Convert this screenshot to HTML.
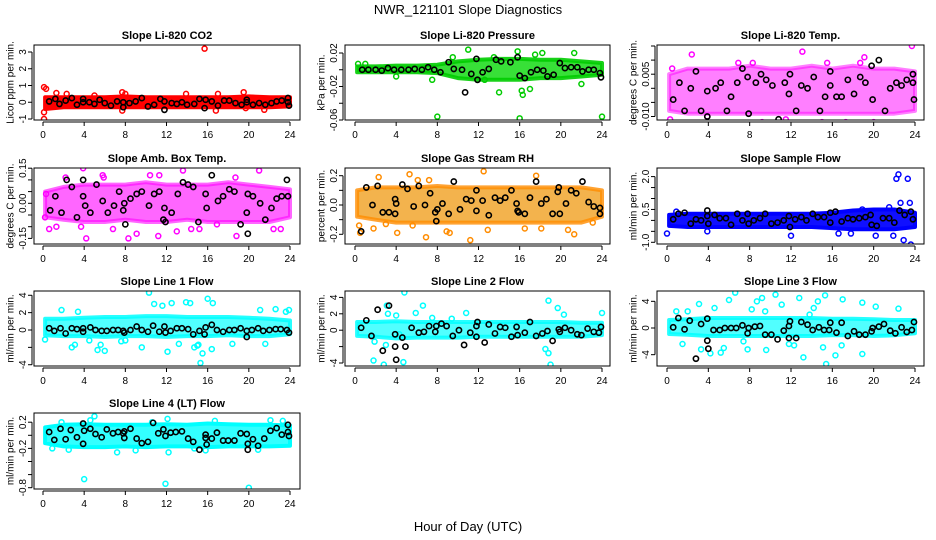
<!DOCTYPE html>
<html><head><meta charset="utf-8">
<style>
html,body{margin:0;padding:0;background:#fff;}
svg{display:block;font-family:"Liberation Sans",Arial,sans-serif;}
</style></head>
<body>
<svg id="chart" width="936" height="540" viewBox="0 0 936 540" xmlns="http://www.w3.org/2000/svg">
<rect width="936" height="540" fill="#fff"/>
<text x="468" y="14" text-anchor="middle" font-size="13">NWR_121101  Slope Diagnostics</text>
<text x="468" y="531" text-anchor="middle" font-size="13">Hour of Day (UTC)</text>
</svg>
<script>
// ---------- data ----------
const xTicks=[0,4,8,12,16,20,24];
const bandHours=[0,2,4,6,8,10,12,14,16,18,20,22,24];

// CO2
const co2Ticks=[-1,0,1,2,3];
const co2Labels=["-1","0","1","2","3"];
const co2BandLo=[-0.4,-0.3,-0.3,-0.3,-0.3,-0.3,-0.3,-0.3,-0.3,-0.3,-0.3,-0.3,-0.25];
const co2BandHi=[0.3,0.3,0.3,0.3,0.35,0.3,0.3,0.3,0.3,0.3,0.35,0.3,0.3];
const co2OutX=[0.1,0.3,0.1,0.1,15.7,1.3,2.3,5,7.7,7.7,8,13.9,16.8,17,19.5,19.7,21.5];
const co2OutY=[0.9,0.8,-0.6,-1.0,3.2,0.55,0.5,0.4,0.6,-0.5,0.5,0.5,-0.5,0.5,0.6,-0.35,-0.45];
const co2BlkX=[0.6,1.2,1.6,2.2,2.8,3.3,3.9,3.9,4.5,5,5.5,6,6.6,7.2,7.8,7.8,8.4,9,9.6,10.2,10.8,11.4,11.8,11.8,12.5,13,13.5,14,14.7,15.2,15.7,15.8,16.4,17,17.6,18.1,18.7,19.3,19.8,19.8,20.4,21,21.6,22.2,22.7,23.2,23.8,23.8,23.9];
const co2BlkY=[0.05,0.2,-0.1,0.1,0.25,-0.15,0.2,0,0,-0.1,0.15,-0.05,-0.2,0.05,-0.3,0,-0.05,0.05,0.25,-0.25,-0.15,0.2,-0.45,0.05,-0.05,-0.1,0,-0.15,-0.1,0.2,-0.35,0.15,0.05,-0.2,0.1,0.1,-0.05,-0.15,0.15,0,-0.15,-0.05,-0.15,-0.05,0.05,0.1,0.25,0,-0.2];

// Pressure
const prTicks=[-0.06,-0.04,-0.02,0,0.02];
const prLabels=["-0.06","","-0.02","","0.02"];
const prBandLo=[-0.003,-0.003,-0.003,-0.003,-0.004,-0.01,-0.012,-0.012,-0.012,-0.01,-0.01,-0.008,-0.006];
const prBandHi=[0.004,0.004,0.005,0.005,0.006,0.01,0.012,0.013,0.013,0.012,0.012,0.01,0.008];
const prOutX=[8,16,24,14,16.3,16.2,17,11,15.8,18.2,21.3,7.5,4,22,1,0.3,13.5,17.5,9.5,12.6];
const prOutY=[-0.056,-0.058,-0.056,-0.027,-0.03,-0.025,-0.023,0.024,0.022,0.02,0.02,-0.012,-0.008,-0.017,0.007,0.007,0.015,0.018,0.015,-0.012];
const prBlkX=[0.7,1.3,2,2.6,3.2,3.8,4.5,5.2,5.8,6.5,7.1,7.7,8.3,9.1,9.6,10.4,10.7,11.3,11.8,11.9,12.4,13,13.7,14.2,15.1,15.8,16,16.5,17.1,17.7,18.3,18.7,19.3,19.9,20.4,21,21.6,22.1,22.7,23.2,23.8,23.9];
const prBlkY=[0,0,0,-0.001,0.002,0,0,0,0.001,0,0.003,0,-0.003,0.009,0.001,0,-0.027,-0.005,0.013,-0.012,-0.003,0.001,0.012,0.01,0.009,0.015,-0.007,-0.01,-0.003,0,-0.001,-0.008,-0.006,0.008,0.002,0.003,0.003,-0.002,0,0,-0.004,-0.009];

// Li-820 Temp
const ltTicks=[-0.010,-0.005,0,0.005,0.010,0.015];
const ltLabels=["-0.010","","","0.005","",""];
const ltBandLo=[-0.008,-0.009,-0.009,-0.009,-0.009,-0.009,-0.009,-0.009,-0.009,-0.009,-0.009,-0.009,-0.008];
const ltBandHi=[0.005,0.007,0.007,0.007,0.008,0.007,0.007,0.008,0.007,0.008,0.007,0.007,0.006];
const ltOutX=[0.3,2.4,1.5,3.9,4.8,8.3,9.2,10.3,13.1,15,17.3,19.1,20,20.5,22.5,23.7,0.5,6.9,11.5,15.5,18.7];
const ltOutY=[-0.011,0.012,-0.013,-0.010,-0.013,0.009,-0.012,-0.014,0.013,-0.012,-0.012,0.011,-0.012,-0.013,-0.014,0.015,0.007,0.009,-0.011,0.009,0.009];
const ltBlkX=[0.6,1.2,1.7,2.3,2.8,3.3,3.9,3.9,4.7,5.2,5.8,6.2,6.8,7.3,7.8,7.9,8.6,9.1,9.6,10.2,10.8,11.4,11.8,11.9,12.5,13,13.6,14.2,14.8,15.3,15.8,15.8,16.4,16.9,17.5,18.1,18.7,19.2,19.8,19.9,20.5,21.1,21.6,22.2,22.7,23.2,23.8,23.8,23.9];
const ltBlkY=[-0.004,0.002,-0.008,0,0.006,-0.008,-0.001,-0.010,0,0.002,-0.008,-0.003,0.002,0.007,0.004,-0.009,0.002,0.005,0.003,0.001,-0.011,0.002,-0.002,0.005,-0.008,0.001,0,0.004,-0.008,-0.003,0.006,0.001,-0.003,-0.003,0.003,-0.002,0.004,0.002,0.008,-0.004,0.01,-0.008,0,0.002,0.001,0.003,0.005,0.002,-0.004];

// Amb box temp
const abTicks=[-0.15,-0.10,-0.05,0,0.05,0.10,0.15];
const abLabels=["-0.15","","","0.00","","","0.15"];
const abBandLo=[-0.06,-0.07,-0.08,-0.08,-0.07,-0.08,-0.08,-0.07,-0.08,-0.08,-0.08,-0.08,-0.06];
const abBandHi=[0.05,0.07,0.08,0.08,0.08,0.09,0.08,0.08,0.08,0.09,0.08,0.07,0.06];
const abOutX=[0.2,0.6,1.3,2.2,3.9,4.2,3.7,5.8,6.8,8.3,9.1,10.4,11.2,11.3,13,13.6,14.4,15.2,16.1,16.9,18.8,18.7,21,22.4,23.1,0.3,5.9];
const abOutY=[-0.06,-0.11,-0.1,0.11,0.15,-0.15,-0.1,0.12,-0.11,-0.15,-0.13,0.12,-0.14,0.12,-0.12,0.14,-0.11,-0.11,-0.2,-0.09,-0.14,0.11,0.14,-0.11,-0.11,0.04,0.11];
const abBlkX=[0.7,1.2,1.8,2.3,2.8,3.3,3.9,3.9,4.1,4.6,5.2,5.8,6.3,6.9,7.4,7.8,7.9,8,8.5,9.1,9.6,10.3,10.8,11.3,11.7,11.8,11.9,12.5,13.1,13.6,14.1,14.6,15.1,15.8,15.9,16.4,17,17.5,18.1,18.6,19.2,19.8,19.9,19.9,20.4,21.1,21.6,22.2,22.7,23.2,23.7,23.8];
const abBlkY=[-0.03,0.03,-0.04,0.1,0.07,-0.06,0.1,0.03,-0.01,-0.04,0.08,0.01,-0.04,-0.01,0.05,-0.03,0,-0.09,0.02,0.04,0.05,-0.01,0.04,0.05,-0.07,-0.02,-0.08,-0.04,0.04,0.09,0.08,0.07,-0.08,0.04,-0.02,0.12,0.01,0.03,0.06,0.05,-0.09,-0.04,0.04,-0.13,0.03,0,-0.07,-0.02,0.02,0.03,0.1,0.03];

// Gas RH
const ghTicks=[-0.2,-0.1,0,0.1,0.2];
const ghLabels=["-0.2","","0.0","","0.2"];
const ghBandLo=[-0.08,-0.1,-0.12,-0.12,-0.12,-0.12,-0.12,-0.12,-0.12,-0.12,-0.12,-0.12,-0.08];
const ghBandHi=[0.1,0.12,0.12,0.12,0.13,0.12,0.12,0.12,0.12,0.12,0.12,0.12,0.1];
const ghOutX=[0.4,0.5,2.3,5.3,6.1,6.9,7.2,4.1,3,9.2,8.9,11.2,12.5,12.9,17.6,20.7,21.3,1.8,5.6,18.1,23.1,16.5];
const ghOutY=[-0.14,-0.19,0.19,0.21,0.17,-0.22,0.17,-0.19,-0.13,-0.19,-0.18,-0.24,0.23,-0.17,0.2,-0.17,-0.2,-0.16,-0.14,-0.16,-0.12,-0.16];
const ghBlkX=[0.6,1.1,1.7,2.2,2.7,3.3,3.9,3.9,4,4.6,5.1,5.7,6.2,6.8,7.3,7.8,7.9,8,8.5,9.1,9.6,10.2,10.8,11.3,11.8,11.8,12.4,13,13.6,14.1,14.6,15.2,15.7,15.8,15.9,16.5,17,17.6,18.1,18.6,19.2,19.7,19.8,19.9,20.5,21,21.5,22.1,22.7,23.2,23.8,23.8];
const ghBlkY=[-0.18,0.12,0,0.13,-0.05,-0.05,0.04,-0.06,0.01,0.14,0.11,-0.01,0.13,0,0.08,-0.05,-0.11,-0.03,0.01,-0.06,0.16,-0.03,0.04,0.03,0.1,-0.04,0.03,-0.07,0.05,0.03,0.05,0.1,0.01,-0.04,-0.05,-0.06,0.05,0.16,0.01,0.04,-0.06,0.09,0.12,-0.06,0.01,0.1,0.08,0.16,0.02,-0.01,-0.06,-0.02];

// Sample flow
const sfTicks=[-1.0,-0.5,0,0.5,1.0,1.5,2.0];
const sfLabels=["-1.0","","","0.5","","","2.0"];
const sfBandLo=[-0.25,-0.3,-0.3,-0.3,-0.3,-0.3,-0.3,-0.3,-0.35,-0.4,-0.4,-0.4,-0.3];
const sfBandHi=[0.25,0.3,0.3,0.3,0.3,0.3,0.3,0.3,0.35,0.45,0.5,0.5,0.35];
const sfOutX=[0,22.4,22.2,23.3,22.6,22.9,23.6,23.5,21.9,22.1,3.9,12,16.6,17.8,20.2,21.5,18.9,0.9];
const sfOutY=[-0.6,2.1,1.9,1.9,0.8,-0.9,-1.1,0.8,-0.7,-1.5,-0.5,-0.7,-0.6,-0.6,-0.7,0.6,0.5,0.4];
const sfBlkX=[0.6,1.1,1.7,2.3,2.8,3.3,3.9,3.9,4,4.6,5.1,5.7,6.2,6.8,7.3,7.8,7.9,8.4,9,9.5,10.1,10.7,11.3,11.8,11.9,12.4,13,13.5,14.1,14.6,15.2,15.8,15.8,16.3,16.9,17.5,18,18.6,19.2,19.7,19.8,20.3,20.9,21.5,22,22.5,23,23.6,23.8];
const sfBlkY=[0.05,0.3,0.35,-0.15,0.05,0,0.45,0.2,-0.15,0.25,0.1,0.1,-0.2,0.3,0,0.3,-0.15,0,0.1,0.3,-0.15,-0.1,0,0.2,-0.3,0.05,0.15,0,0.3,0.15,0.15,-0.1,0.35,0.4,-0.05,0.1,0.05,0.1,0.15,0.25,-0.2,-0.25,0.1,0.1,-0.1,0.45,0.25,0.4,0.05];

// Line 1
const l1Ticks=[-4,-2,0,2,4];
const l1Labels=["-4","","0","2","4"];
const l1BandLo=[-0.6,-0.7,-0.7,-0.8,-0.7,-0.7,-0.8,-0.7,-0.7,-0.6,-0.7,-0.7,-0.5];
const l1BandHi=[1.3,1.3,1.4,1.5,1.5,1.6,1.6,1.5,1.5,1.5,1.4,1.3,1.1];
const l1OutX=[0.2,2.8,3.1,5.3,5.6,6,7.6,8,9.6,10.3,10.8,11.6,12.1,12.5,13.2,13.9,14.3,14.7,15,15.1,15.3,15.5,16,16.4,16.5,18.4,21.1,21.6,22.6,23.6,23.9,1.8,3.4,4.5];
const l1OutY=[-1.1,-2,-1.7,-2.3,-1.7,-2.4,-1.3,-1.2,-2,4.3,3,2.8,-2.5,3.1,-1.6,3.2,3.1,-2,-1.8,-1.7,-3.8,-2.7,3.6,-2.2,3.1,-1.6,2.3,-1.6,2.4,2.1,2.3,2.3,2.1,-1.2];
const l1BlkX=[0.6,1.1,1.7,2.2,2.8,3.3,3.9,3.9,4.6,5.1,5.7,6.2,6.8,7.3,7.8,7.9,8.5,9.1,9.6,10.2,10.7,11.3,11.8,11.9,12.4,13,13.5,14.1,14.6,15.2,15.7,15.8,16.4,16.9,17.5,18.1,18.6,19.2,19.8,19.8,20.3,20.9,21.4,22,22.6,23.1,23.7,23.9];
const l1BlkY=[0.2,-0.1,0.2,-0.4,0.2,0.1,0.2,-0.2,0.3,0,-0.1,-0.1,0,0,-0.1,-0.3,0,0.4,0,-0.2,0.5,-0.2,0.4,-0.3,-0.1,0.2,0.2,0.1,-0.5,-0.1,-0.5,0.3,0.6,0,-0.2,0,0,0.2,-0.8,-0.1,0,0.2,-0.1,0,0.1,0.1,0,-0.3];

// Line 2
const l2Ticks=[-4,-2,0,2,4];
const l2Labels=["-4","","0","2","4"];
const l2BandLo=[-0.7,-0.8,-1.0,-0.9,-0.9,-0.9,-0.8,-0.8,-0.8,-0.8,-0.8,-0.8,-0.6];
const l2BandHi=[1.0,1.0,1.1,1.0,1.0,1.0,1.0,1.0,1.0,1.0,1.0,0.9,0.9];
const l2OutX=[1.8,2.8,3.1,4,4.3,4.7,4.8,6.6,5.9,7.5,9.4,10.8,18.5,18.8,19,18.8,19.7,20.3,24,3,3.2,1.9];
const l2OutY=[-3.7,-4.2,3,1.8,-0.5,-3.9,4.6,3,2.1,1.5,1.4,2.1,-2.3,3.6,-4.2,-2.8,2.7,1.9,2.1,-1.8,2,-1.4];
const l2BlkX=[0.6,1.1,1.6,2.2,2.7,3.3,3.9,3.9,4,4.6,4.9,5.5,6.2,6.7,7.2,7.8,7.9,8.4,8.9,9.5,10.1,10.6,11.2,11.8,11.8,11.9,12.6,13,13.6,14.1,14.6,15.2,15.7,15.8,16.5,17,17.6,18.2,18.7,19.2,19.8,19.9,20.4,21,21.6,22,22.6,23.2,23.7,23.9];
const l2BlkY=[0.3,1.2,-0.7,2.5,-2.5,3,-0.5,-2,-3.6,-0.9,-2,0.3,-0.3,-0.2,0.5,-0.2,0.5,0.8,0.5,-0.7,0,-1.8,-0.3,-0.8,0.5,1,-1.5,0.7,-0.4,0.4,0.3,-0.8,0.4,-0.6,-0.3,1,-0.7,-0.4,-0.1,-1.3,0.1,-0.2,0.3,0,-0.5,-0.6,0.2,-0.2,-0.3,0.4];

// Line 3
const l3Ticks=[-4,0,4];
const l3Labels=["-4","0","4"];
const l3BandLo=[-0.9,-1.0,-1.2,-1.2,-1.2,-1.2,-1.2,-1.2,-1.1,-1.1,-1.2,-1.1,-0.8];
const l3BandHi=[1.2,1.3,1.5,1.5,1.5,1.5,1.5,1.5,1.4,1.4,1.3,1.2,1.2];
const l3OutX=[0.9,1.5,2,3.1,3.3,4.2,4.6,5.2,6.6,7.8,8.2,8.7,9.2,9.6,10.5,11.1,12.3,12.8,13.2,13.8,14.6,15.1,15.3,15.4,16.3,17,18.9,18.9,20.2,22.4,5.5,6,7.4,9.5,11.8,14.2,16.9];
const l3OutY=[2.5,-2.4,2.5,3.6,-3.2,-3.8,3,-3.7,5.3,-3.2,2.8,4,4.5,-3.3,5,3.5,-2.6,4.5,-4.4,2,4,-2.9,4.9,-5.4,-4.1,4.3,3.8,-3.9,3.2,2.9,-3,4.2,-2,2.5,-2.4,3,-2.6];
const l3BlkX=[0.6,1.1,1.7,2.2,2.8,3.3,3.9,3.9,4,4.5,5.1,5.6,6.2,6.7,7.3,7.8,7.9,8.5,9,9.5,10.1,10.7,11.3,11.8,11.8,11.9,12.5,13,13.6,14.1,14.7,15.2,15.7,15.8,16.4,16.9,17.5,18.1,18.6,19.2,19.8,19.9,20.5,21,21.6,22.1,22.7,23.2,23.7,23.9];
const l3BlkY=[0.1,1.5,-0.2,1.1,-4.6,0.6,1.4,-1.9,-3.1,-0.3,-0.3,0,0,0,0.4,-0.8,0,0.2,0.3,-1,-1,-1.7,-0.4,-1.5,0.3,1,-1.5,0.9,0.5,-0.3,0.1,-0.3,-0.3,0.8,-0.7,0.8,-1.2,-0.5,-1,-1,-0.5,0,0.2,0.6,-0.4,-0.8,0.1,-0.6,-0.3,0.9];

// Line 4
const l4Ticks=[-0.8,-0.6,-0.4,-0.2,0,0.2];
const l4Labels=["-0.8","","","-0.2","","0.2"];
const l4BandLo=[-0.12,-0.17,-0.18,-0.18,-0.17,-0.18,-0.17,-0.17,-0.18,-0.17,-0.17,-0.17,-0.16];
const l4BandHi=[0.12,0.16,0.17,0.16,0.16,0.16,0.17,0.16,0.18,0.17,0.16,0.16,0.15];
const l4OutX=[0.9,1.8,2.5,4,4.6,5,7.2,9,10.6,12.1,12.2,14.7,15.8,16.7,20,20.9,22.1,23.3,11.9,3.9];
const l4OutY=[-0.2,0.2,-0.22,-0.67,0.23,0.29,-0.26,-0.23,0.2,0.25,-0.26,-0.2,-0.23,0.22,-0.8,-0.22,0.23,0.22,-0.74,0.15];
const l4BlkX=[0.6,1.1,1.7,2.2,2.7,3.3,3.9,3.9,4,4.6,5.1,5.7,6.2,6.8,7.3,7.8,7.9,7.9,8.5,9.1,9.6,10.2,10.7,11.2,11.7,11.9,12.4,12.9,13.5,14.1,14.6,15.2,15.8,15.8,15.9,16.4,16.9,17.5,18,18.6,19.2,19.8,19.9,19.9,20.4,20.9,21.5,22.1,22.7,23.2,23.8,23.8,23.9];
const l4BlkY=[0.05,-0.07,0.1,-0.06,0.08,-0.03,0.18,-0.13,0.07,0.1,0.02,-0.03,0.09,0.03,0.05,0.03,0.06,-0.04,0.1,-0.05,-0.12,-0.1,0.19,0.03,0.09,-0.01,0.04,0.05,0.06,-0.05,-0.1,-0.22,0.01,-0.04,-0.14,-0.05,0.04,-0.08,-0.08,-0.08,0.03,0.02,-0.13,-0.22,-0.06,-0.16,-0.05,0.07,0.11,0.01,0.16,0.05,-0.01];

// ---------- layout (not data) ----------
const NS="http://www.w3.org/2000/svg";
const svg=document.getElementById('chart');
const COLS=[{bx1:34,bx2:300,x0:43,x24:290,lblX:10},{bx1:345,bx2:610,x0:355,x24:602,lblX:321},{bx1:657,bx2:924,x0:667,x24:915,lblX:633}];
const ROWS=[{by1:45,by2:120},{by1:168,by2:244},{by1:291,by2:366},{by1:413,by2:489}];

const panels=[
 {key:'co2',title:'Slope Li-820 CO2',ylab:'Licor ppm per min.',col:0,row:0,zero:102.25,ppu:16.75,ticks:co2Ticks,labels:co2Labels,lo:co2BandLo,hi:co2BandHi,ox:co2OutX,oy:co2OutY,bx:co2BlkX,by:co2BlkY,color:'#ff0000',fill:'#ff0000',op:1},
 {key:'pressure',title:'Slope Li-820 Pressure',ylab:'kPa per min.',col:1,row:0,zero:69.75,ppu:837.5,ticks:prTicks,labels:prLabels,lo:prBandLo,hi:prBandHi,ox:prOutX,oy:prOutY,bx:prBlkX,by:prBlkY,color:'#00cc00',fill:'#22dd22',op:0.9},
 {key:'li820-temp',title:'Slope Li-820 Temp.',ylab:'degrees C per min.',col:2,row:0,zero:88.3,ppu:2820,ticks:ltTicks,labels:ltLabels,lo:ltBandLo,hi:ltBandHi,ox:ltOutX,oy:ltOutY,bx:ltBlkX,by:ltBlkY,color:'#ff00ff',fill:'#ff00ff',op:0.5},
 {key:'amb-box-temp',title:'Slope Amb. Box Temp.',ylab:'degrees C per min.',col:0,row:1,zero:203.3,ppu:234,ticks:abTicks,labels:abLabels,lo:abBandLo,hi:abBandHi,ox:abOutX,oy:abOutY,bx:abBlkX,by:abBlkY,color:'#ff00ff',fill:'#ff00ff',op:0.6},
 {key:'gas-rh',title:'Slope Gas Stream RH',ylab:'percent per min.',col:1,row:1,zero:205,ppu:146.5,ticks:ghTicks,labels:ghLabels,lo:ghBandLo,hi:ghBandHi,ox:ghOutX,oy:ghOutY,bx:ghBlkX,by:ghBlkY,color:'#ff8c00',fill:'#f0a020',op:0.8},
 {key:'sample-flow',title:'Slope Sample Flow',ylab:'ml/min per min.',col:2,row:1,zero:220.4,ppu:21.9,ticks:sfTicks,labels:sfLabels,lo:sfBandLo,hi:sfBandHi,ox:sfOutX,oy:sfOutY,bx:sfBlkX,by:sfBlkY,color:'#0000ff',fill:'#1010ff',op:1},
 {key:'line1',title:'Slope Line 1 Flow',ylab:'ml/min per min.',col:0,row:2,zero:330,ppu:8.68,ticks:l1Ticks,labels:l1Labels,lo:l1BandLo,hi:l1BandHi,ox:l1OutX,oy:l1OutY,bx:l1BlkX,by:l1BlkY,color:'#00ffff',fill:'#33ffff',op:0.85},
 {key:'line2',title:'Slope Line 2 Flow',ylab:'ml/min per min.',col:1,row:2,zero:330.2,ppu:8.2,ticks:l2Ticks,labels:l2Labels,lo:l2BandLo,hi:l2BandHi,ox:l2OutX,oy:l2OutY,bx:l2BlkX,by:l2BlkY,color:'#00ffff',fill:'#33ffff',op:0.85},
 {key:'line3',title:'Slope Line 3 Flow',ylab:'ml/min per min.',col:2,row:2,zero:328,ppu:6.67,ticks:l3Ticks,labels:l3Labels,lo:l3BandLo,hi:l3BandHi,ox:l3OutX,oy:l3OutY,bx:l3BlkX,by:l3BlkY,color:'#00ffff',fill:'#33ffff',op:0.85},
 {key:'line4',title:'Slope Line 4 (LT) Flow',ylab:'ml/min per min.',col:0,row:3,zero:435.3,ppu:65.5,ticks:l4Ticks,labels:l4Labels,lo:l4BandLo,hi:l4BandHi,ox:l4OutX,oy:l4OutY,bx:l4BlkX,by:l4BlkY,color:'#00ffff',fill:'#33ffff',op:1}
];

function mk(tag,attrs,parent){const e=document.createElementNS(NS,tag);for(const k in attrs)e.setAttribute(k,attrs[k]);parent.appendChild(e);return e;}

panels.forEach(p=>{
  const C=COLS[p.col],R=ROWS[p.row];
  const xs=t=>C.x0+t*(C.x24-C.x0)/24;
  const ys=v=>p.zero-v*p.ppu;
  const g=mk('g',{},svg);
  
  
  const t=mk('text',{x:(C.bx1+C.bx2)/2,y:R.by1-6,'text-anchor':'middle','font-size':'11','font-weight':'bold'},g);
  t.textContent=p.title;
  
  
  const cy=(R.by1+R.by2)/2;
  const yl=mk('text',{x:C.lblX,y:cy,'text-anchor':'middle','font-size':'10',transform:`rotate(-90 ${C.lblX} ${cy})`,dy:'0.35em'},g);
  yl.textContent=p.ylab;
  
  
  const clipId='clip-'+p.key;
  const cp=mk('clipPath',{id:clipId},g);
  mk('rect',{x:C.bx1,y:R.by1,width:C.bx2-C.bx1,height:R.by2-R.by1},cp);
  const pg=mk('g',{'clip-path':`url(#${clipId})`},g);
  let pts=bandHours.map((h,i)=>`${xs(Math.max(h,0.2)).toFixed(1)},${ys(p.hi[i]).toFixed(1)}`);
  for(let i=bandHours.length-1;i>=0;i--)pts.push(`${xs(Math.max(bandHours[i],0.2)).toFixed(1)},${ys(p.lo[i]).toFixed(1)}`);
  const band=mk('polygon',{points:pts.join(' '),fill:p.fill,'fill-opacity':p.op,stroke:p.color,'stroke-opacity':p.op,'stroke-width':'4','stroke-linejoin':'round'},pg);
  
  
  p.ox.forEach((x,i)=>{
    const c=mk('circle',{cx:xs(x),cy:ys(p.oy[i]),r:2.5,fill:'none',stroke:p.color,'stroke-width':'1.5'},pg);
    
    
  });
  p.bx.forEach((x,i)=>{
    const c=mk('circle',{cx:xs(x),cy:ys(p.by[i]),r:2.6,fill:'none',stroke:'#000','stroke-width':'1.6'},pg);
    
    
  });
  const box=mk('rect',{x:C.bx1,y:R.by1,width:C.bx2-C.bx1,height:R.by2-R.by1,fill:'none',stroke:'#000','stroke-width':'1'},g);
  
  
  const xa=mk('g',{},g);
  
  
  const xb=R.by2+2;
  mk('line',{x1:xs(xTicks[0]),x2:xs(xTicks[xTicks.length-1]),y1:xb,y2:xb,stroke:'#000'},xa);
  xTicks.forEach(v=>{
    mk('line',{x1:xs(v),x2:xs(v),y1:xb,y2:xb+4,stroke:'#000'},xa);
    const tl=mk('text',{x:xs(v),y:xb+16,'text-anchor':'middle','font-size':'10'},xa);
    tl.textContent=String(v);
  });
  const ya=mk('g',{},g);
  
  
  const yb=C.bx1-2;
  mk('line',{x1:yb,x2:yb,y1:ys(p.ticks[0]),y2:ys(p.ticks[p.ticks.length-1]),stroke:'#000'},ya);
  p.ticks.forEach((v,i)=>{
    mk('line',{x1:yb-4,x2:yb,y1:ys(v),y2:ys(v),stroke:'#000'},ya);
    if(p.labels[i]){
      const lx=C.bx1-8,ly=ys(v);
      const tl=mk('text',{x:lx,y:ly,'text-anchor':'middle','font-size':'10',transform:`rotate(-90 ${lx} ${ly})`},ya);
      tl.textContent=p.labels[i];
    }
  });
});
</script>
</body></html>
